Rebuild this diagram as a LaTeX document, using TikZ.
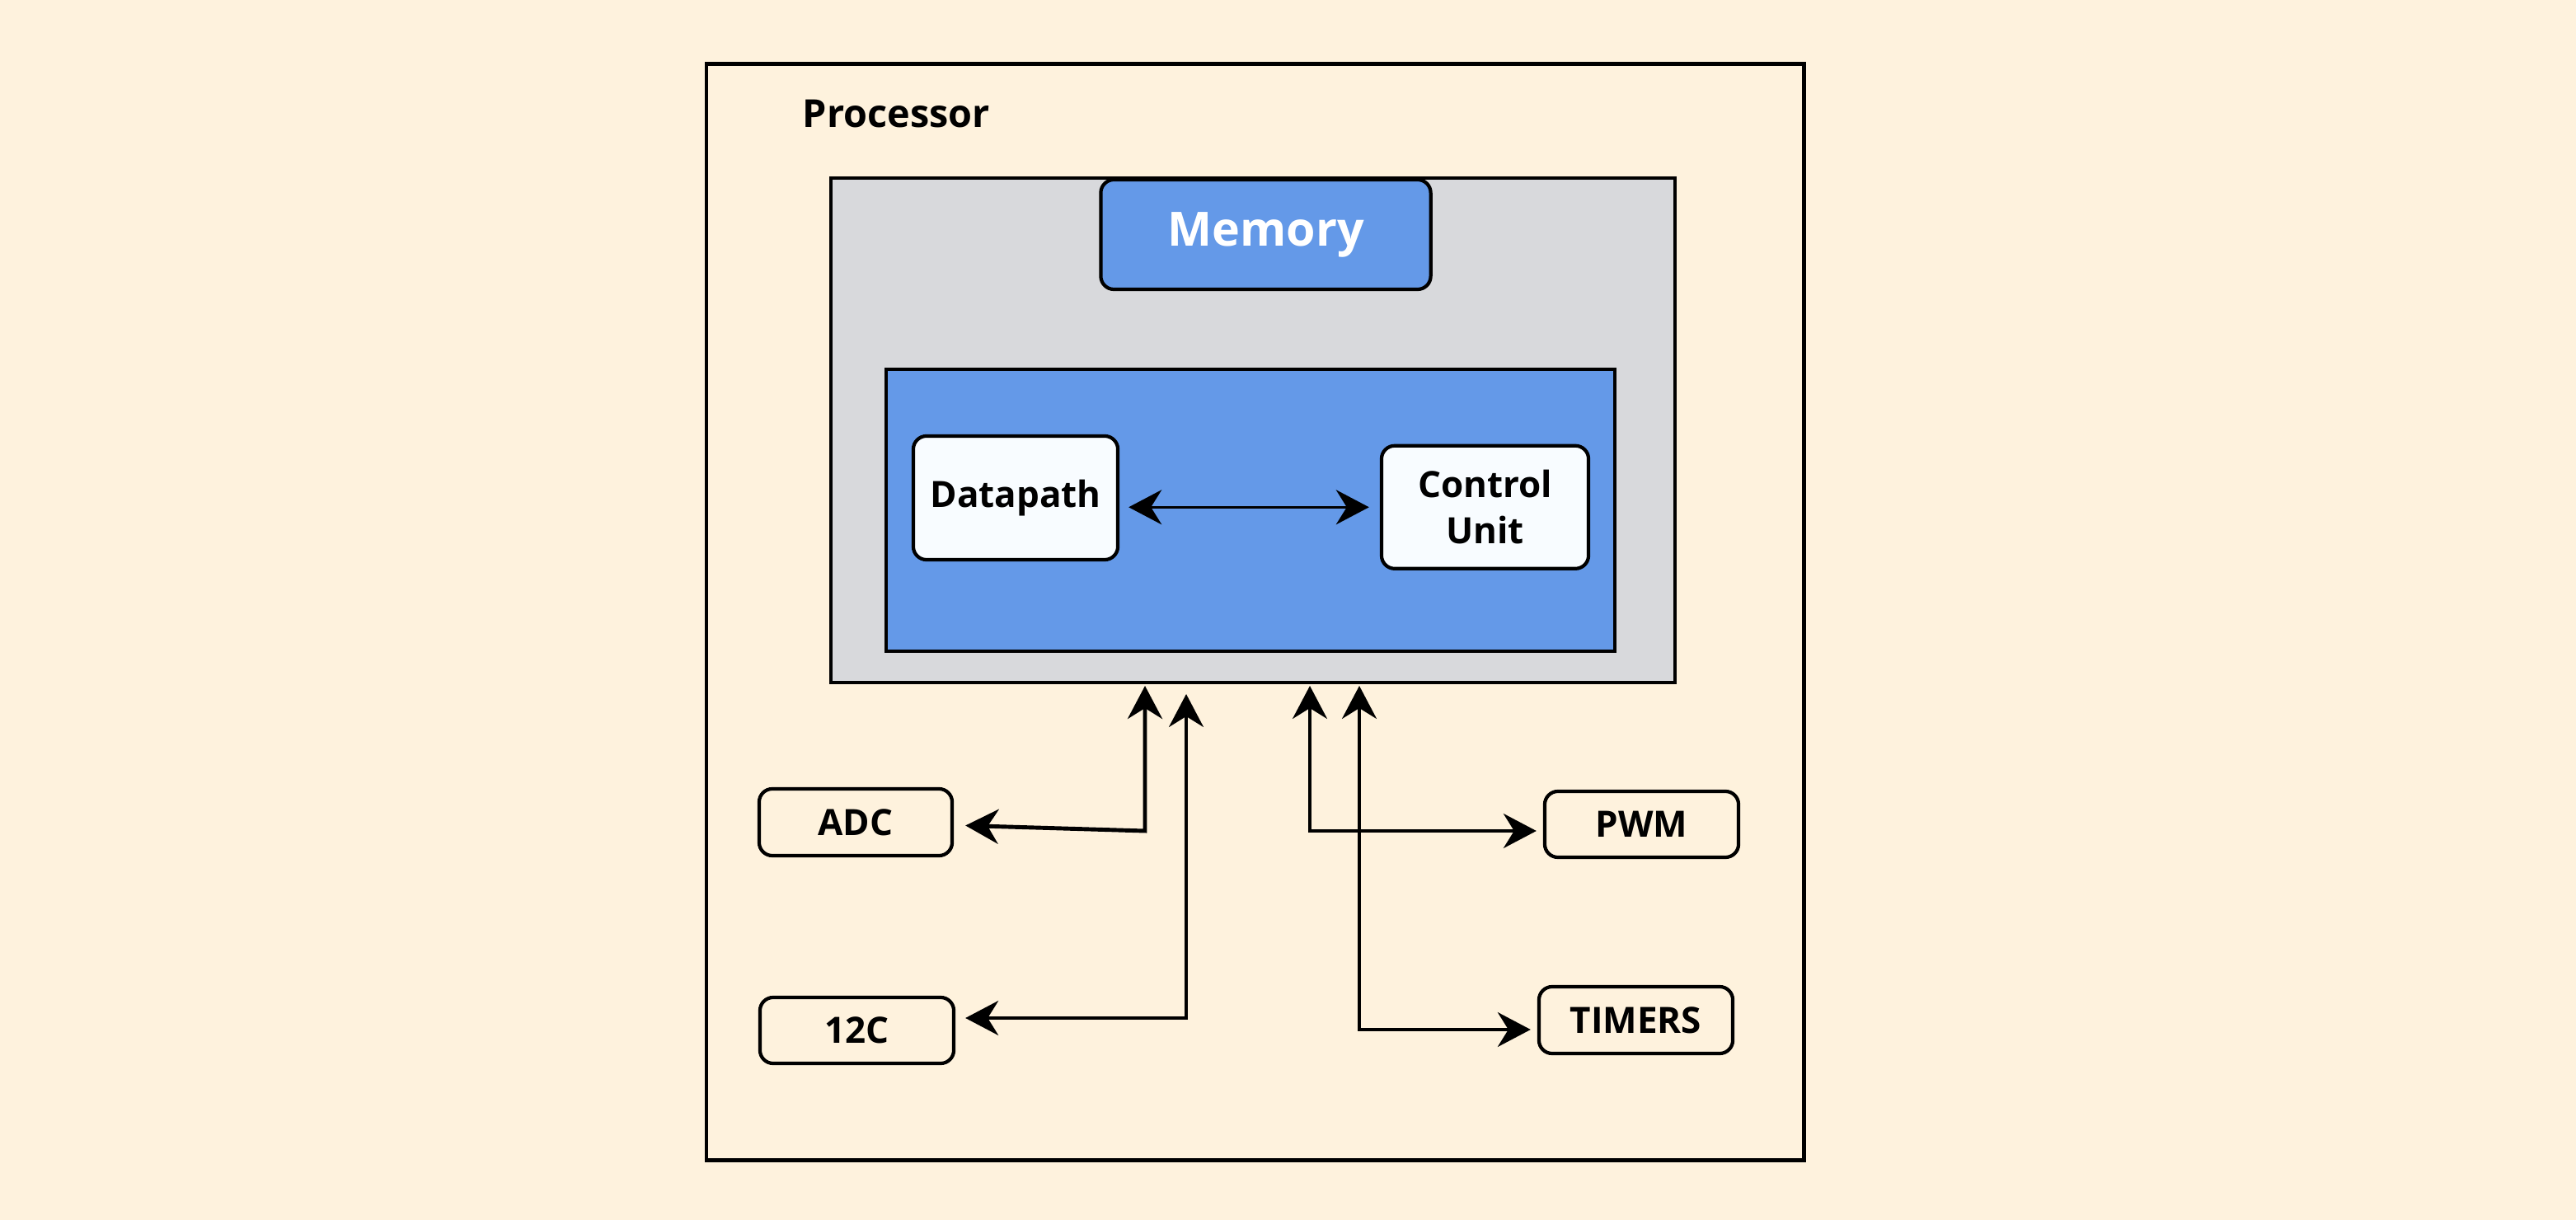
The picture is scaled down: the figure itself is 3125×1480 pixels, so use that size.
\documentclass[tikz,border=0pt]{standalone}
\usepackage{fontspec}
\setmainfont{Open Sans}
\usetikzlibrary{arrows.meta}
\definecolor{bgcol}{HTML}{FEF2DD}
\definecolor{greycol}{HTML}{D8D9DC}
\definecolor{bluecol}{HTML}{6499E8}
\definecolor{whitecol}{HTML}{F8FCFF}
\tikzset{
  box/.style={draw=black, line width=1.2pt, inner sep=0pt, align=center, font=\fontsize{12.5}{15.9}\selectfont\bfseries},
  rbox/.style={box, rounded corners=0.16cm, fill=whitecol},
  pbox/.style={box, rounded corners=0.16cm},
  tip/.tip={Stealth[length=0.40cm, width=0.42cm, inset=0.13cm]},
  dconn/.style={line width=0.9pt, tip-tip},
}
\begin{document}
\begin{tikzpicture}[x=0.01cm, y=-0.01cm]
\fill[bgcol] (0,0) rectangle (3125,1480);
\useasboundingbox (0,0) rectangle (3125,1480);
% outer frame
\node[box, minimum width=13.31cm, minimum height=13.29cm] (frame) at (1522.5,742.5) {};
\node[anchor=west, inner sep=0pt, font=\fontsize{13.3}{15}\selectfont\bfseries] (ptitle) at (973,138) {Processor};
% grey block
\node[box, fill=greycol, minimum width=10.24cm, minimum height=6.12cm] (grey) at (1520,522) {};
\node[pbox, fill=bluecol, text=white, minimum width=4.0cm, minimum height=1.33cm, font=\fontsize{16.3}{19}\selectfont\bfseries] (memory) at (1535.5,284.5) {Memory};
\node[box, fill=bluecol, minimum width=8.84cm, minimum height=3.42cm] (blue) at (1517,619) {};
\node[rbox, minimum width=2.48cm, minimum height=1.50cm] (datapath) at (1232,604) {Datapath};
\node[rbox, minimum width=2.51cm, minimum height=1.49cm] (control) at (1801.5,615.3) {Control\\Unit};
\draw[dconn, shorten <=0.11cm, shorten >=0.13cm] (control.west -| datapath.east) -- (control.west);
% peripherals
\node[pbox, minimum width=2.34cm, minimum height=0.81cm] (adc) at (1038,997.5) {ADC};
\node[pbox, minimum width=2.35cm, minimum height=0.80cm] (i2c) at (1039.5,1250) {12C};
\node[pbox, minimum width=2.35cm, minimum height=0.80cm] (pwm) at (1991.5,1000) {PWM};
\node[pbox, minimum width=2.35cm, minimum height=0.81cm] (timers) at (1984.5,1237.5) {TIMERS};
% connector points
\coordinate (t1) at (1389,832);
\coordinate (t2) at (1439,842);
\coordinate (t3) at (1589,832);
\coordinate (t4) at (1649,832);
\coordinate (k1) at (1389,1008);
\coordinate (k2) at (1439,1235);
\coordinate (k3) at (1589,1008);
\coordinate (k4) at (1649,1249);
% connectors
\draw[dconn, line width=1.4pt, shorten <=0.14cm] (adc) -- (k1) -- (t1);
\draw[dconn, shorten <=0.12cm] (k2 -| i2c.east) -- (k2) -- (t2);
\draw[dconn, shorten >=0.08cm] (t3) -- (k3) -- (k3 -| pwm.west);
\draw[dconn, shorten >=0.08cm] (t4) -- (k4) -- (k4 -| timers.west);
\end{tikzpicture}
\end{document}
